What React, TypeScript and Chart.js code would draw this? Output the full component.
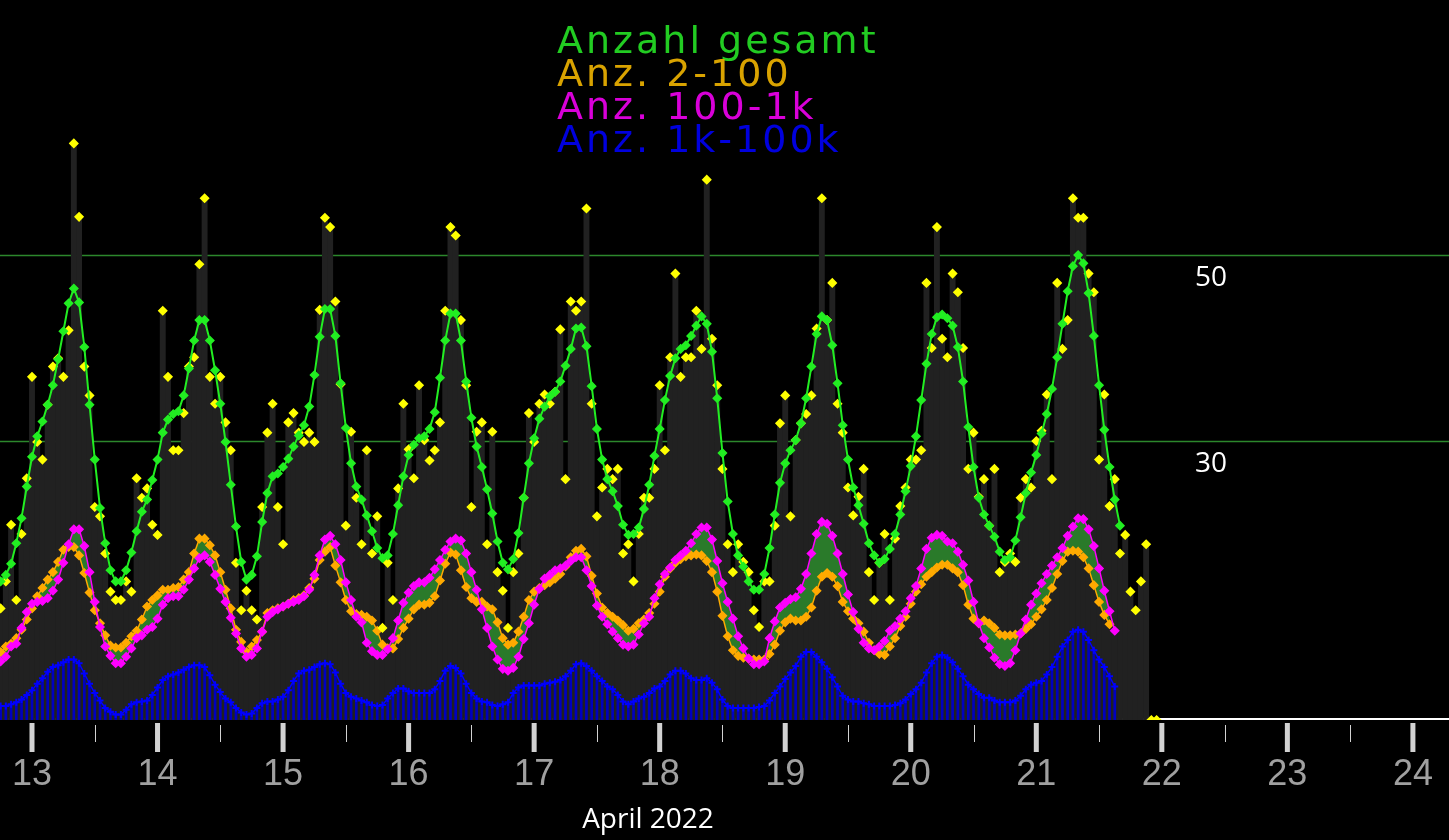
import { useEffect, useRef } from "react";
import { Chart, registerables } from "chart.js";

Chart.register(...registerables);

// hourly samples, hour 0 = 13 April 00:00, first sample at hour -6
const START_HOUR = -6;

const totalRaw = [
  12.0, 14.9, 21.0, 12.9, 20.0, 26.0,
  36.9, 29.9, 28.0, 33.9, 38.0, 38.9, 36.9, 41.9, 62.0, 54.1, 38.0, 34.9, 22.9, 21.9, 17.9, 13.8, 12.9, 12.9, 14.9, 13.8, 26.0, 23.9, 24.9, 21.0,
  19.9, 44.0, 36.9, 29.0, 29.0, 33.0, 38.0, 39.0, 49.0, 56.1, 36.9, 34.0, 36.9, 32.0, 29.0, 16.9, 11.8, 13.9, 11.8, 10.8, 22.9, 30.9, 34.0, 22.9,
  18.9, 32.0, 33.0, 30.9, 29.9, 30.9, 29.9, 44.1, 54.0, 53.0, 45.0, 36.1, 20.9, 31.0, 23.9, 18.9, 29.0, 17.9, 21.9, 9.9, 16.9, 12.9, 24.9, 34.0,
  29.1, 26.0, 36.0, 30.1, 27.9, 29.0, 32.0, 44.0, 53.0, 52.1, 43.0, 36.0, 22.9, 31.0, 32.0, 18.9, 31.0, 15.9, 13.9, 9.9, 15.9, 17.9, 23.9, 33.0,
  29.9, 34.0, 35.0, 34.0, 35.3, 42.0, 25.9, 45.0, 44.0, 45.0, 55.0, 34.0, 21.9, 25.0, 27.0, 25.9, 27.0, 17.9, 18.9, 14.9, 20.0, 23.9, 23.9, 27.0,
  36.0, 29.0, 39.0, 48.0, 36.9, 39.0, 39.0, 44.0, 39.9, 58.1, 41.0, 36.0, 27.0, 18.9, 15.9, 18.9, 17.0, 15.9, 11.8, 10.0, 14.9, 14.9, 20.9, 31.9,
  34.9, 21.9, 30.1, 31.9, 32.9, 34.9, 42.1, 56.1, 43.0, 47.0, 34.0, 30.9, 25.0, 22.0, 24.0, 27.0, 15.9, 12.9, 16.9, 20.0, 12.9, 19.5, 23.0, 25.0,
  28.0, 28.0, 29.0, 47.0, 40.0, 53.0, 41.0, 39.0, 48.0, 46.0, 40.0, 27.0, 30.9, 24.0, 25.9, 20.9, 27.0, 15.9, 17.0, 17.9, 17.0, 23.9, 25.9, 25.0,
  30.0, 31.1, 35.0, 25.9, 47.0, 39.9, 43.0, 56.1, 54.0, 54.0, 48.0, 46.0, 28.0, 35.0, 23.0, 25.9, 17.9, 19.9, 13.8, 11.8, 14.9, 18.9, 0, 0,
];

const totalSmooth = [
  14.9, 15.6, 16.8, 19.0, 21.7, 25.1,
  28.3, 30.5, 32.1, 33.9, 36.0, 38.8, 41.8, 44.8, 46.4, 44.9, 40.1, 33.9, 28.0, 22.8, 19.0, 16.1, 14.9, 14.9, 16.1, 18.0, 20.3, 22.4, 23.7, 25.8,
  28.0, 30.9, 32.3, 32.9, 33.2, 34.9, 37.8, 40.8, 43.0, 43.0, 40.8, 37.6, 34.0, 29.9, 25.3, 20.8, 17.0, 15.1, 15.6, 17.6, 21.3, 24.4, 26.2, 26.5,
  27.2, 28.1, 29.4, 30.6, 31.7, 33.7, 37.1, 41.2, 44.2, 44.2, 41.3, 36.2, 31.4, 27.6, 25.1, 23.7, 22.0, 20.3, 18.5, 17.4, 17.7, 20.0, 23.1, 26.2,
  28.5, 29.6, 30.3, 30.5, 31.3, 33.1, 36.8, 40.8, 43.7, 43.7, 40.8, 36.4, 32.5, 29.4, 27.2, 24.8, 22.2, 19.2, 16.9, 16.2, 17.3, 20.1, 23.9, 27.6,
  30.3, 32.4, 33.7, 34.8, 35.3, 36.4, 38.1, 39.9, 42.1, 42.2, 40.2, 35.9, 31.3, 28.0, 25.9, 24.6, 23.0, 21.0, 19.9, 20.0, 20.7, 22.7, 25.3, 28.4,
  31.3, 34.4, 37.0, 38.9, 39.9, 40.3, 41.3, 42.4, 43.4, 42.6, 39.6, 34.6, 28.7, 23.5, 20.0, 17.7, 16.5, 14.9, 14.0, 14.0, 15.7, 18.5, 22.1, 25.5,
  27.6, 29.0, 30.1, 31.9, 34.6, 38.0, 41.5, 43.4, 43.0, 40.3, 36.2, 31.7, 28.0, 25.0, 23.1, 21.1, 19.0, 17.7, 16.9, 17.3, 18.4, 20.0, 22.1, 24.6,
  27.3, 30.5, 34.4, 38.3, 41.5, 43.3, 43.6, 43.2, 42.4, 40.1, 36.4, 31.5, 27.2, 23.9, 22.1, 20.9, 19.7, 18.1, 17.2, 17.5, 19.3, 21.8, 24.4, 26.6,
  28.5, 30.8, 32.9, 35.6, 39.0, 42.6, 46.1, 48.8, 50.0, 49.1, 45.9, 41.3, 36.0, 31.2, 27.2, 23.7, 20.9,
];

const small2to100 = [
  7.3, 7.9, 8.2, 8.8, 9.7, 10.8,
  12.0, 13.3, 14.2, 15.1, 15.9, 17.0, 18.3, 18.6, 18.6, 17.7, 15.8, 13.7, 11.8, 10.4, 9.1, 8.0, 7.8, 7.8, 8.3, 9.0, 9.6, 10.8, 12.2, 12.9,
  13.4, 14.0, 14.0, 14.2, 14.3, 15.1, 15.9, 17.9, 19.5, 19.5, 18.8, 17.7, 15.9, 14.0, 12.0, 9.7, 8.4, 7.3, 7.9, 8.6, 9.5, 11.5, 11.8, 12.0,
  12.2, 12.5, 12.9, 13.1, 13.4, 14.2, 15.2, 17.2, 18.1, 18.6, 16.6, 14.8, 12.9, 11.7, 11.4, 11.3, 11.1, 10.7, 9.6, 8.1, 7.7, 7.7, 8.7, 9.9,
  10.9, 11.9, 12.4, 12.4, 12.6, 13.3, 15.0, 16.8, 18.0, 17.8, 16.1, 14.3, 13.1, 12.7, 12.7, 12.2, 11.9, 10.5, 8.8, 8.1, 8.3, 9.5, 11.1, 12.9,
  13.8, 14.2, 14.5, 14.8, 15.2, 15.7, 16.5, 17.5, 18.2, 18.4, 17.6, 15.5, 13.6, 12.1, 11.5, 11.1, 10.7, 10.2, 9.6, 9.8, 10.4, 10.8, 11.5, 12.5,
  13.8, 15.4, 16.3, 16.9, 17.3, 17.6, 17.7, 17.8, 17.7, 17.1, 15.9, 13.8, 11.2, 9.0, 7.5, 6.9, 6.7, 6.6, 6.5, 6.5, 6.5, 7.1, 8.1, 9.6,
  10.5, 10.9, 10.7, 10.7, 11.1, 12.1, 13.9, 15.4, 15.8, 15.4, 14.4, 12.7, 11.7, 10.9, 10.4, 9.5, 8.3, 7.5, 7.1, 7.0, 7.9, 8.8, 10.1, 11.1,
  12.5, 13.8, 14.6, 15.4, 15.9, 16.4, 16.7, 16.7, 16.3, 15.9, 14.5, 12.4, 10.9, 10.4, 10.7, 10.4, 9.9, 9.2, 9.1, 9.1, 9.2, 9.3, 9.8, 10.3,
  11.1, 11.9, 12.9, 14.2, 15.7, 17.1, 18.1, 18.2, 18.1, 17.5, 16.3, 14.5, 12.7, 11.3, 10.3,
];

const mid100to1k = [
  6.3, 6.8, 7.9, 8.2, 9.9, 11.6,
  12.5, 12.7, 12.8, 13.1, 13.9, 15.1, 16.9, 18.9, 20.5, 20.5, 18.7, 15.9, 12.7, 10.0, 7.9, 6.9, 6.1, 6.1, 6.8, 7.7, 8.8, 9.1, 9.7, 10.0,
  10.9, 12.4, 13.1, 13.3, 13.3, 14.0, 15.1, 16.3, 17.4, 17.7, 17.0, 15.6, 14.1, 12.7, 11.0, 9.3, 7.7, 6.8, 7.0, 7.7, 9.5, 11.1, 11.6, 11.9,
  12.2, 12.5, 12.7, 12.9, 13.3, 14.0, 15.6, 17.7, 19.4, 19.8, 18.9, 17.2, 14.8, 12.9, 11.1, 10.5, 8.3, 7.4, 7.0, 7.0, 7.6, 8.8, 10.7, 12.6,
  13.7, 14.4, 14.8, 14.8, 15.3, 16.2, 17.2, 18.3, 19.2, 19.5, 19.3, 17.9, 15.9, 14.0, 11.9, 9.9, 7.9, 6.5, 5.5, 5.3, 5.6, 6.8, 8.7, 10.4,
  12.4, 14.1, 15.2, 15.6, 16.1, 16.3, 16.6, 17.1, 17.5, 17.5, 16.1, 14.4, 12.3, 11.1, 10.3, 9.5, 8.8, 8.1, 7.9, 8.1, 9.2, 10.4, 11.1, 13.1,
  14.6, 15.7, 16.4, 17.2, 17.7, 18.2, 19.0, 20.0, 20.7, 20.7, 19.4, 17.1, 14.7, 12.7, 10.9, 9.0, 7.7, 6.6, 6.0, 6.0, 6.3, 8.8, 10.6, 12.1,
  12.6, 13.0, 13.2, 14.1, 15.7, 17.9, 20.0, 21.3, 21.1, 19.8, 17.9, 15.7, 13.5, 11.6, 9.8, 8.3, 7.7, 7.5, 7.9, 8.5, 9.6, 10.1, 10.9, 11.7,
  13.1, 14.4, 16.3, 18.4, 19.6, 19.9, 19.8, 19.2, 19.0, 18.1, 16.7, 15.0, 12.7, 10.4, 8.8, 7.8, 6.7, 6.0, 5.8, 6.1, 7.5, 9.3, 10.8, 12.4,
  13.6, 14.7, 15.7, 16.6, 17.5, 18.5, 19.8, 20.8, 21.7, 21.6, 20.5, 18.7, 16.3, 13.9, 11.7, 9.6,
];

const large1kto100k = [
  1.5, 1.5, 1.7, 1.9, 2.2, 2.7,
  3.2, 3.9, 4.5, 5.2, 5.7, 5.9, 6.2, 6.5, 6.5, 6.1, 5.0, 3.9, 2.9, 2.1, 1.3, 0.9, 0.6, 0.6, 1.1, 1.7, 1.9, 2.0, 2.1, 2.7,
  3.5, 4.3, 4.7, 4.9, 5.1, 5.4, 5.7, 5.9, 5.9, 5.7, 4.8, 3.8, 3.0, 2.3, 1.9, 1.3, 0.8, 0.6, 0.7, 1.3, 1.8, 2.0, 2.0, 2.2,
  2.5, 3.2, 4.2, 5.0, 5.3, 5.4, 5.7, 6.0, 6.1, 6.0, 5.1, 3.9, 2.9, 2.5, 2.3, 2.1, 1.9, 1.6, 1.5, 1.6, 2.3, 2.9, 3.4, 3.4,
  3.1, 2.9, 2.9, 2.9, 2.9, 3.3, 4.2, 5.3, 5.8, 5.6, 5.0, 3.9, 2.9, 2.3, 2.0, 1.9, 1.6, 1.5, 1.7, 1.9, 2.9, 3.5, 3.7, 3.7,
  3.7, 3.7, 3.9, 4.0, 4.1, 4.3, 4.7, 5.3, 6.0, 6.1, 5.8, 5.3, 4.7, 4.2, 3.6, 3.3, 2.7, 2.0, 1.7, 2.0, 2.3, 2.5, 2.9, 3.4,
  3.6, 4.2, 4.9, 5.3, 5.3, 5.0, 4.5, 4.3, 4.3, 4.5, 4.0, 3.3, 2.2, 1.5, 1.3, 1.3, 1.3, 1.3, 1.3, 1.4, 1.5, 2.1, 2.9, 3.6,
  4.4, 5.1, 5.8, 6.8, 7.3, 7.3, 6.8, 6.2, 5.5, 4.6, 3.6, 2.6, 2.2, 2.0, 2.0, 1.8, 1.7, 1.5, 1.5, 1.5, 1.5, 1.6, 1.8, 2.2,
  2.8, 3.3, 4.0, 5.1, 6.1, 6.8, 7.0, 6.7, 6.2, 5.5, 4.7, 3.8, 3.3, 2.8, 2.4, 2.4, 2.1, 1.9, 1.9, 1.9, 2.1, 2.6, 3.3, 3.8,
  4.0, 4.2, 4.9, 5.7, 6.8, 7.9, 8.6, 9.5, 9.7, 9.5, 8.6, 7.5, 6.5, 5.7, 4.7, 3.6,
];

const LEGEND_LABELS = ["Anzahl gesamt", "Anz. 2-100", "Anz. 100-1k", "Anz. 1k-100k"];
const DAY_LABELS = ["13", "14", "15", "16", "17", "18", "19", "20", "21", "22", "23", "24"];
const FIRST_DAY = 13;
const Y_GRID = [30, 50];
const Y_GRID_LABELS = ["30", "50"];
const MONTH_LABEL = "April 2022";

const toPoints = (values: number[]) => values.map((v, i) => ({ x: START_HOUR + i, y: v }));

const LEGEND_COLORS = ["#22cc22", "#d9a300", "#d900d9", "#0000dd"];

const overlay = {
  id: "overlay",
  beforeDatasetsDraw(chart: any) {
    const { ctx, chartArea, scales } = chart;
    const y = scales.y;
    ctx.save();
    ctx.strokeStyle = "#2c872c";
    ctx.lineWidth = 1.6;
    for (const v of Y_GRID) {
      const py = Math.round(y.getPixelForValue(v)) + 0.5;
      ctx.beginPath();
      ctx.moveTo(chartArea.left, py);
      ctx.lineTo(chartArea.right, py);
      ctx.stroke();
    }
    const py0 = y.getPixelForValue(0) - 1;
    ctx.strokeStyle = "#ffffff";
    ctx.lineWidth = 2;
    ctx.beginPath();
    ctx.moveTo(chartArea.left, py0);
    ctx.lineTo(chartArea.right, py0);
    ctx.stroke();
    ctx.restore();
  },
  afterDraw(chart: any) {
    const { ctx, scales, width } = chart;
    const x = scales.x;
    const y = scales.y;
    const base = y.getPixelForValue(0);
    ctx.save();

    // day ticks and labels
    DAY_LABELS.forEach((label, i) => {
      const h = (FIRST_DAY + i - 13) * 24;
      const px = x.getPixelForValue(h);
      const pm = x.getPixelForValue(h + 12);
      ctx.fillStyle = "#d2d2d2";
      if (px > -5 && px < width + 5) ctx.fillRect(px - 2.5, base + 3, 5, 29);
      if (pm > -5 && pm < width + 5) ctx.fillRect(Math.round(pm), base + 5, 1, 17);
      ctx.fillStyle = "#a0a0a0";
      ctx.font = "36px 'Liberation Sans'";
      ctx.textAlign = "center";
      ctx.textBaseline = "middle";
      ctx.fillText(label, px, base + 55);
    });
    const pmPrev = x.getPixelForValue(-12);
    ctx.fillStyle = "#d2d2d2";
    if (pmPrev > 0) ctx.fillRect(Math.round(pmPrev), base + 5, 1, 17);

    // month label
    ctx.fillStyle = "#ffffff";
    ctx.font = "28px 'Open Sans'";
    ctx.textAlign = "center";
    ctx.textBaseline = "middle";
    ctx.fillText(MONTH_LABEL, 648, 820);

    // y values inside plot
    Y_GRID.forEach((v, i) => {
      ctx.fillText(Y_GRID_LABELS[i], 1211, y.getPixelForValue(v) + 23);
    });

    // legend block
    ctx.font = "38px 'DejaVu Sans'";
    (ctx as any).letterSpacing = "3px";
    ctx.textAlign = "left";
    ctx.textBaseline = "alphabetic";
    LEGEND_LABELS.forEach((t, i) => {
      ctx.fillStyle = LEGEND_COLORS[i];
      ctx.fillText(t, 557, 53 + i * 33);
    });
    ctx.restore();
  },
};

const marker = (color: string) => ({
  pointStyle: "rectRot",
  pointRadius: 4,
  pointBackgroundColor: color,
  pointBorderColor: color,
  pointBorderWidth: 1.5,
});

export default function App() {
  const canvasRef = useRef<HTMLCanvasElement | null>(null);
  const chartRef = useRef<Chart | null>(null);

  useEffect(() => {
    document.body.style.margin = "0";
    document.body.style.background = "#000";
    if (!canvasRef.current) return;
    const ctx = canvasRef.current.getContext("2d");
    if (!ctx) return;

    chartRef.current?.destroy();
    chartRef.current = new Chart(ctx, {
      type: "bar",
      data: {
        datasets: [
          {
            type: "bar",
            data: toPoints(totalRaw),
            backgroundColor: "#212121",
            grouped: false,
            categoryPercentage: 1,
            barPercentage: 1,
            borderWidth: 0,
            order: 10,
          },
          {
            type: "bar",
            data: toPoints(large1kto100k),
            backgroundColor: "#0000c0",
            grouped: false,
            barThickness: 2,
            borderWidth: 0,
            order: 9,
          },
          {
            type: "line",
            data: toPoints(large1kto100k),
            borderColor: "#0000ff",
            borderWidth: 1.5,
            pointStyle: "cross",
            pointRadius: 3.5,
            pointBorderColor: "#0000ff",
            pointBorderWidth: 2,
            tension: 0,
            order: 8,
          },
          {
            type: "line",
            data: toPoints(small2to100),
            borderColor: "#ffaa00",
            borderWidth: 1.5,
            ...marker("#ffaa00"),
            backgroundColor: "#2a7a2a",
            fill: 4,
            tension: 0,
            order: 7,
          },
          {
            type: "line",
            data: toPoints(mid100to1k),
            borderColor: "#ff00ff",
            borderWidth: 1.5,
            ...marker("#ff00ff"),
            fill: false,
            tension: 0,
            order: 6,
          },
          {
            type: "line",
            data: toPoints(totalRaw),
            showLine: false,
            ...marker("#ffff00"),
            order: 5,
          },
          {
            type: "line",
            data: toPoints(totalSmooth),
            borderColor: "#22ee22",
            borderWidth: 2,
            ...marker("#22ee22"),
            tension: 0,
            order: 4,
          },
        ] as any,
      },
      options: {
        animation: false,
        responsive: true,
        maintainAspectRatio: false,
        events: [],
        layout: { autoPadding: false, padding: { left: 0, right: 0, top: 0, bottom: 120 } },
        plugins: { legend: { display: false }, tooltip: { enabled: false } },
        scales: {
          x: { type: "linear", min: -6.117, max: 270.9, offset: false, display: false },
          y: { type: "linear", min: 0, max: 77.42, display: false },
        },
      },
      plugins: [overlay],
    });

    return () => {
      chartRef.current?.destroy();
      chartRef.current = null;
    };
  }, []);

  return (
    <div style={{ position: "relative", width: 1449, height: 840, background: "#000" }}>
      <canvas ref={canvasRef} />
    </div>
  );
}
